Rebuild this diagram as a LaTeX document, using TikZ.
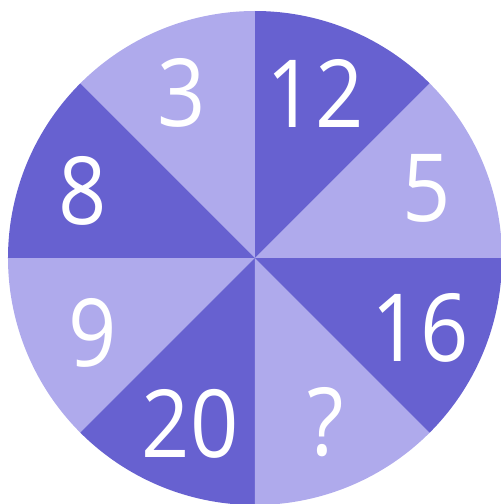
\documentclass[tikz,border=0pt]{standalone}
\usepackage{fontspec}
\setmainfont[FakeStretch=0.9]{Open Sans}
\usepackage{tikz}
\definecolor{segdark}{RGB}{103,97,208}
\definecolor{seglight}{RGB}{175,170,236}

\begin{document}
\begin{tikzpicture}[x=1pt,y=1pt,
  darkseg/.style={fill=segdark},
  lightseg/.style={fill=seglight},
  num/.style={text=white,inner sep=0pt,font=\fontsize{94}{94}\selectfont}]
\useasboundingbox (-255,-246) rectangle (246,258);
\coordinate (c) at (0,0);
\foreach \a in {0,90,180,270} {
  \fill[lightseg] (c) -- (\a:247) arc (\a:\a+45:247) -- cycle;
  \fill[darkseg] (c) -- (\a+45:247) arc (\a+45:\a+90:247) -- cycle;
}
\node[num] (n3) at (-73,165) {3};
\node[num] (n12) at (60,165) {12};
\node[num] (n8) at (-172,67) {8};
\node[num] (n5) at (172,70) {5};
\node[num] (n9) at (-162,-75) {9};
\node[num] (n16) at (165,-70) {16};
\node[num] (n20) at (-65,-166) {20};
\node[num] (nq) at (71,-164) {?};
\end{tikzpicture}
\end{document}
